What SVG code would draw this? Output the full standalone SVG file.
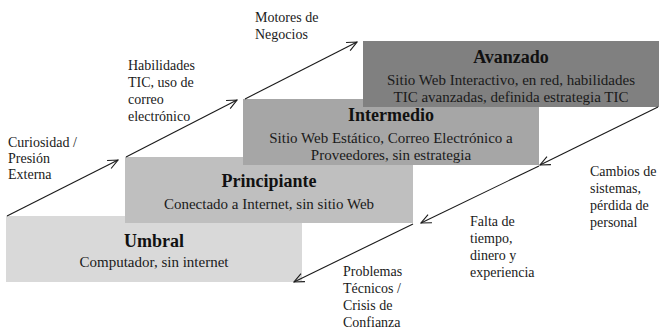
<svg xmlns="http://www.w3.org/2000/svg" width="659" height="331" viewBox="0 0 659 331">
<defs>
<marker id="arr" markerWidth="12" markerHeight="12" refX="0" refY="0" viewBox="-11 -6 12 12" orient="auto" markerUnits="userSpaceOnUse">
<path d="M-10,-4.5 L0,0 L-10,4.5" fill="none" stroke="#1a1a1a" stroke-width="1.1"/>
</marker>
<style>
.t{font-size:18px;font-weight:bold;fill:#111;text-anchor:middle}
.b{font-size:15px;fill:#1a1a1a;text-anchor:middle}
.l{font-size:14px;fill:#1a1a1a}
.c{fill:none;stroke:#1a1a1a;stroke-width:1.1;marker-end:url(#arr)}
</style>
</defs>
<rect width="659" height="331" fill="#fff"/>
<g font-family="Liberation Serif, Tinos, Times New Roman, DejaVu Serif, serif">
<g id="umbral">
<rect x="6" y="216" width="296" height="66" fill="#d9d9d9"/>
<text class="t" x="154" y="247">Umbral</text>
<text class="b" x="154" y="267">Computador, sin internet</text>
</g>
<g id="principiante">
<rect x="125" y="157" width="288" height="66" fill="#bfbfbf"/>
<text class="t" x="269" y="187">Principiante</text>
<text class="b" x="269" y="209">Conectado a Internet, sin sitio Web</text>
</g>
<g id="intermedio">
<rect x="243" y="99" width="296" height="66" fill="#a6a6a6"/>
<text class="t" x="391" y="121">Intermedio</text>
<text class="b" x="391" y="143">Sitio Web Estático, Correo Electrónico a</text>
<text class="b" x="391" y="160">Proveedores, sin estrategia</text>
</g>
<g id="avanzado">
<rect x="363" y="41" width="296" height="66" fill="#808080"/>
<text class="t" x="511" y="63">Avanzado</text>
<text class="b" x="511" y="85">Sitio Web Interactivo, en red, habilidades</text>
<text class="b" x="511" y="102">TIC avanzadas, definida estrategia TIC</text>
</g>
<g id="connectors">
<path class="c" d="M7,216 L118,160"/>
<path class="c" d="M126,157 L237,100"/>
<path class="c" d="M245,99 L357,42"/>
<path class="c" d="M658,107 L540,165"/>
<path class="c" d="M539,166 L421,223"/>
<path class="c" d="M413,224 L294,282"/>
</g>
<g id="labels">
<text class="l" x="8" y="147">Curiosidad /</text>
<text class="l" x="8" y="163">Presión</text>
<text class="l" x="8" y="179">Externa</text>
<text class="l" x="128" y="70">Habilidades</text>
<text class="l" x="128" y="87">TIC, uso de</text>
<text class="l" x="128" y="104">correo</text>
<text class="l" x="128" y="121">electrónico</text>
<text class="l" x="255" y="22">Motores de</text>
<text class="l" x="255" y="39">Negocios</text>
<text class="l" x="590" y="176">Cambios de</text>
<text class="l" x="590" y="193">sistemas,</text>
<text class="l" x="590" y="210">pérdida de</text>
<text class="l" x="590" y="227">personal</text>
<text class="l" x="470" y="226">Falta de</text>
<text class="l" x="470" y="243">tiempo,</text>
<text class="l" x="470" y="260">dinero y</text>
<text class="l" x="470" y="277">experiencia</text>
<text class="l" x="343" y="276">Problemas</text>
<text class="l" x="343" y="293">Técnicos /</text>
<text class="l" x="343" y="310">Crisis de</text>
<text class="l" x="343" y="327">Confianza</text>
</g>
</g>
</svg>
